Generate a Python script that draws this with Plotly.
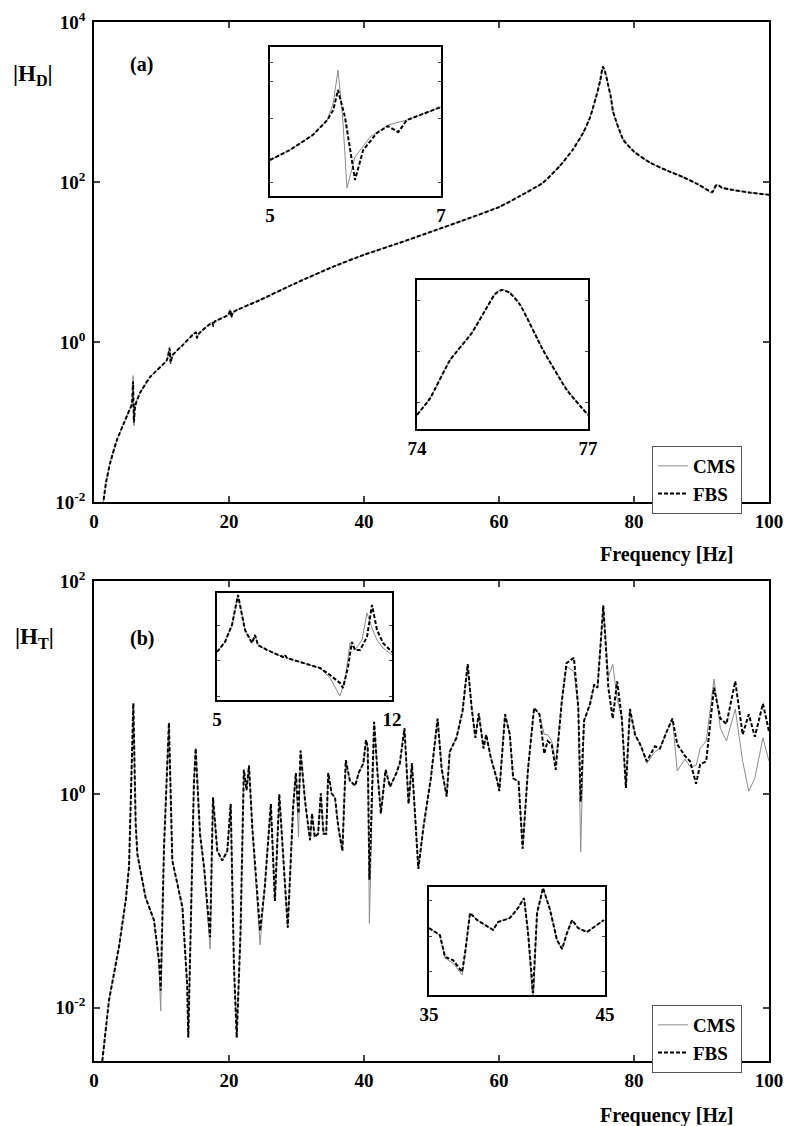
import plotly.graph_objects as go

# ---------------- data (y given as log10 exponents) ----------------
# Panel (a) main curve
freq_a = [1.3, 1.8, 2.4, 3.4, 4.5, 5.0, 5.6, 5.78, 5.92, 6.1, 6.8, 8.3, 10.8, 11.2, 11.35, 11.6,
          13.0, 15.1, 15.25, 15.5, 17.5, 17.65, 17.8, 19.9, 20.2, 20.35, 20.6, 24.6, 30.0, 35.4,
          40.0, 45.3, 50.0, 55.0, 60.1, 63.0, 66.5, 69.0, 70.9, 72.5, 73.5, 74.0, 74.5, 75.0,
          75.4, 75.8, 76.2, 76.6, 76.9, 78.4, 80.0, 82.4, 85.0, 87.3, 89.5, 91.6, 92.1, 92.5,
          93.0, 94.7, 97.0, 100.0]
fbs_a_exp = [-2.05, -1.75, -1.51, -1.225, -1.0, -0.90, -0.78, -0.50, -1.0, -0.80, -0.64, -0.44,
             -0.225, -0.08, -0.26, -0.17, -0.05, 0.12, 0.05, 0.10, 0.24, 0.20, 0.25, 0.34, 0.40,
             0.31, 0.37, 0.525, 0.74, 0.94, 1.09, 1.24, 1.38, 1.53, 1.69, 1.82, 1.99, 2.2, 2.4,
             2.62, 2.81, 2.95, 3.1, 3.27, 3.44, 3.35, 3.2, 3.05, 2.88, 2.53, 2.38, 2.24, 2.14,
             2.06, 1.97, 1.875, 1.95, 1.96, 1.93, 1.9, 1.87, 1.84]
cms_a_exp = [-2.05, -1.75, -1.51, -1.225, -1.0, -0.90, -0.78, -0.42, -1.05, -0.78, -0.64, -0.44,
             -0.225, -0.06, -0.27, -0.17, -0.05, 0.13, 0.05, 0.10, 0.25, 0.20, 0.25, 0.34, 0.41,
             0.31, 0.37, 0.525, 0.74, 0.94, 1.09, 1.24, 1.38, 1.53, 1.69, 1.82, 1.99, 2.2, 2.4,
             2.62, 2.81, 2.95, 3.1, 3.27, 3.44, 3.35, 3.2, 3.05, 2.88, 2.53, 2.38, 2.24, 2.14,
             2.06, 1.97, 1.86, 1.97, 1.96, 1.93, 1.9, 1.87, 1.84]

# Inset (a) 5-7 Hz
freq_a1_fbs = [5.0, 5.23, 5.50, 5.67, 5.74, 5.795, 5.877, 5.936, 5.994, 6.09, 6.25, 6.38, 6.50,
               6.60, 6.75, 7.0]
fbs_a1_exp = [-0.90, -0.844, -0.759, -0.674, -0.617, -0.504, -0.657, -0.844, -1.013, -0.844,
              -0.747, -0.708, -0.742, -0.674, -0.646, -0.60]
freq_a1_cms = [5.0, 5.23, 5.50, 5.67, 5.74, 5.795, 5.85, 5.90, 5.994, 6.17, 6.38, 6.50, 6.60,
               6.75, 7.0]
cms_a1_exp = [-0.90, -0.844, -0.759, -0.674, -0.578, -0.391, -0.657, -1.059, -0.883, -0.77,
              -0.702, -0.685, -0.674, -0.646, -0.60]

# Inset (a) 74-77 Hz
freq_a2 = [74.0, 74.23, 74.58, 74.96, 75.23, 75.37, 75.49, 75.63, 75.81, 76.21, 76.63, 77.0]
fbs_a2_exp = [2.95, 3.016, 3.165, 3.271, 3.373, 3.424, 3.44, 3.428, 3.381, 3.205, 3.048, 2.95]
cms_a2_exp = [2.95, 3.016, 3.165, 3.271, 3.373, 3.424, 3.442, 3.430, 3.383, 3.207, 3.05, 2.952]

# Panel (b) main curve
freq_b = [1.23, 2.22, 2.96, 3.7, 4.69, 5.19, 5.83, 6.17, 6.42, 6.8, 7.65, 8.89, 9.63, 9.88,
          10.37, 11.1, 11.6, 13.1, 13.8, 13.97, 14.8, 15.06, 15.7, 16.3, 17.2, 17.63, 18.27,
          19.0, 19.75, 20.25, 20.74, 21.14, 21.7, 22.2, 22.6, 22.96, 23.45, 24.6, 25.3, 26.2,
          26.8, 27.45, 27.8, 28.7, 29.5, 29.9, 30.3, 30.6, 31.26, 32.0, 32.3, 32.7, 33.2, 33.6,
          34.0, 34.4, 34.7, 35.2, 35.7, 36.2, 36.8, 37.3, 37.9, 38.7, 39.2, 39.9, 40.3, 40.55,
          40.8, 41.5, 42.0, 42.5, 43.2, 43.85, 44.8, 45.3, 46.0, 46.6, 47.1, 48.05, 48.8, 49.9,
          50.9, 51.5, 52.25, 52.7, 53.7, 54.6, 55.36, 55.95, 56.5, 57.0, 57.7, 58.1, 58.8,
          59.65, 60.05, 60.9, 61.6, 62.1, 62.9, 63.5, 64.3, 65.2, 66.0, 66.7, 67.2, 67.8, 68.4,
          69.3, 70.0, 71.1, 71.75, 72.1, 72.6, 73.5, 74.1, 74.6, 75.45, 76.2, 76.85, 77.5,
          78.2, 78.8, 79.4, 80.15, 80.9, 81.9, 83.1, 83.85, 84.85, 85.7, 86.4, 87.55, 88.3,
          89.2, 89.8, 90.7, 91.85, 92.8, 93.7, 95.0, 96.1, 97.0, 97.9, 99.1, 100.0]
fbs_b_exp = [-2.5, -1.93, -1.68, -1.43, -1.0, -0.68, 0.854, -0.27, -0.56, -0.68, -0.97, -1.18,
             -1.56, -1.84, -0.50, 0.67, -0.62, -1.06, -1.78, -2.28, 0.10, 0.43, -0.37, -0.68,
             -1.34, -0.03, -0.53, -0.62, -0.53, -0.09, -1.62, -2.28, -1.31, 0.23, 0.04, 0.27,
             -0.31, -1.28, -0.87, -0.09, -1.0, 0.0, -0.37, -1.25, -0.12, 0.20, -0.18, 0.41,
             -0.06, -0.43, -0.18, -0.40, -0.37, 0.01, -0.37, -0.37, 0.20, 0.01, -0.03, -0.31,
             -0.53, 0.32, 0.13, 0.08, 0.20, 0.29, 0.51, 0.44, -0.8, 0.68, 0.20, -0.18, 0.23,
             0.07, 0.20, 0.29, 0.62, -0.09, 0.29, -0.70, -0.31, 0.15, 0.71, 0.24, -0.02, 0.40,
             0.53, 0.78, 1.22, 0.81, 0.53, 0.76, 0.43, 0.56, 0.34, 0.15, 0.03, 0.75, 0.56, 0.15,
             0.12, -0.51, 0.24, 0.81, 0.75, 0.38, 0.50, 0.47, 0.23, 0.87, 1.23, 1.28, 0.81,
             -0.07, 0.69, 0.85, 1.03, 1.0, 1.77, 1.0, 0.71, 1.06, 0.71, 0.06, 0.80, 0.56, 0.47,
             0.31, 0.45, 0.43, 0.59, 0.71, 0.47, 0.36, 0.31, 0.10, 0.28, 0.31, 1.0, 0.71, 0.66,
             1.06, 0.56, 0.75, 0.54, 0.85, 0.59]
cms_b_exp = [-2.5, -1.93, -1.68, -1.43, -1.0, -0.68, 0.854, -0.27, -0.56, -0.68, -0.97, -1.18,
             -1.60, -2.03, -0.50, 0.67, -0.62, -1.06, -1.80, -2.28, 0.10, 0.43, -0.37, -0.68,
             -1.45, -0.03, -0.53, -0.62, -0.53, -0.09, -1.62, -2.28, -1.31, 0.23, 0.04, 0.27,
             -0.31, -1.41, -0.87, -0.09, -1.0, 0.0, -0.37, -1.25, -0.12, 0.20, -0.40, 0.41,
             -0.06, -0.43, -0.18, -0.40, -0.37, 0.01, -0.37, -0.37, 0.20, 0.01, -0.03, -0.31,
             -0.53, 0.32, 0.13, 0.08, 0.20, 0.29, 0.51, 0.44, -1.21, 0.68, 0.20, -0.18, 0.23,
             0.07, 0.20, 0.29, 0.62, -0.09, 0.29, -0.70, -0.31, 0.15, 0.71, 0.24, -0.02, 0.40,
             0.53, 0.78, 1.22, 0.81, 0.53, 0.76, 0.43, 0.56, 0.34, 0.15, 0.03, 0.75, 0.56, 0.15,
             0.12, -0.51, 0.24, 0.81, 0.75, 0.56, 0.56, 0.50, 0.30, 0.87, 1.2, 1.15, 0.81,
             -0.54, 0.69, 0.85, 1.03, 1.0, 1.77, 1.1, 1.22, 0.9, 0.71, 0.06, 0.80, 0.56, 0.47,
             0.29, 0.40, 0.43, 0.59, 0.71, 0.22, 0.33, 0.26, 0.27, 0.43, 0.50, 1.08, 0.62, 0.50,
             0.80, 0.31, 0.03, 0.15, 0.53, 0.31]

# Inset (b) 5-12 Hz
freq_b1_fbs = [5.0, 5.32, 5.6, 5.84, 6.12, 6.4, 6.52, 6.64, 7.0, 7.64, 7.72, 7.8, 8.32, 9.12,
               9.52, 9.92, 10.04, 10.24, 10.4, 10.52, 10.72, 11.0, 11.2, 11.4, 11.64, 12.0]
fbs_b1_exp = [-0.751, -0.470, 0.008, 0.851, -0.133, -0.498, -0.273, -0.555, -0.695, -0.892,
              -0.835, -0.920, -1.032, -1.201, -1.398, -1.622, -1.763, -1.173, -0.470, -0.695,
              -0.695, -0.330, 0.570, -0.133, -0.498, -0.751]
freq_b1_cms = [5.0, 5.32, 5.6, 5.84, 6.12, 6.4, 6.52, 6.64, 7.0, 7.64, 7.72, 7.8, 8.32, 9.12,
               9.52, 9.8, 9.92, 10.12, 10.32, 10.52, 10.8, 11.0, 11.2, 11.4, 11.64, 12.0]
cms_b1_exp = [-0.751, -0.470, 0.008, 0.851, -0.133, -0.498, -0.273, -0.555, -0.695, -0.892,
              -0.835, -0.920, -1.032, -1.201, -1.482, -1.819, -1.988, -1.538, -0.498, -0.695,
              -0.414, 0.345, -0.077, -0.414, -0.639, -0.836]

# Inset (b) 35-45 Hz
freq_b2 = [35.0, 35.62, 35.91, 36.36, 36.88, 37.05, 37.33, 37.73, 38.64, 38.92, 39.6, 40.06,
           40.4, 40.63, 40.91, 41.14, 41.48, 41.88, 42.27, 42.56, 42.84, 43.13, 43.47, 43.98,
           44.94]
fbs_b2_exp = [0.116, 0.017, -0.293, -0.336, -0.505, -0.237, 0.327, 0.229, 0.088, 0.200, 0.257,
              0.398, 0.539, 0.045, -0.801, 0.327, 0.68, 0.37, -0.053, -0.18, 0.045, 0.229,
              0.116, 0.059, 0.229]
cms_b2_exp = [0.116, 0.010, -0.310, -0.378, -0.547, -0.250, 0.327, 0.229, 0.088, 0.200, 0.257,
              0.398, 0.539, 0.045, -1.0, 0.327, 0.68, 0.37, -0.053, -0.18, 0.045, 0.229,
              0.116, 0.059, 0.229]

x_ticks = [0, 20, 40, 60, 80, 100]
y_ticks_a = [-2, 0, 2, 4]
y_ticks_b = [-2, 0, 2]
series_names = ["CMS", "FBS"]


def mag(exps):
    return [10 ** e for e in exps]


# ---------------- style ----------------
FONT = "Liberation Serif, Times New Roman, serif"
TFONT = dict(family=FONT, size=19, color="black")
CMS_LINE = dict(color="#8c8c8c", width=1)
FBS_LINE = dict(color="black", width=2, dash="4px,2px")

W, H = 795, 1126


def px_x(p):
    return p / W


def px_y(p):
    return 1 - p / H


def b(t):
    return "<b>%s</b>" % t


fig = go.Figure()


def add_pair(xc, yc, xf, yf, xa, ya, legend=None, smooth=False):
    shape = dict(shape="spline", smoothing=0.5) if smooth else {}
    fig.add_trace(go.Scatter(x=xc, y=mag(yc), mode="lines", line=dict(CMS_LINE, **shape),
                             name=b(series_names[0]), xaxis=xa, yaxis=ya,
                             showlegend=legend is not None, legend=legend or "legend"))
    fig.add_trace(go.Scatter(x=xf, y=mag(yf), mode="lines", line=dict(FBS_LINE, **shape),
                             name=b(series_names[1]), xaxis=xa, yaxis=ya,
                             showlegend=legend is not None, legend=legend or "legend"))


add_pair(freq_a, cms_a_exp, freq_a, fbs_a_exp, "x", "y", "legend", smooth=True)
add_pair(freq_b, cms_b_exp, freq_b, fbs_b_exp, "x2", "y2", "legend2")
add_pair(freq_a1_cms, cms_a1_exp, freq_a1_fbs, fbs_a1_exp, "x3", "y3")
add_pair(freq_a2, cms_a2_exp, freq_a2, fbs_a2_exp, "x4", "y4", smooth=True)
add_pair(freq_b1_cms, cms_b1_exp, freq_b1_fbs, fbs_b1_exp, "x5", "y5")
add_pair(freq_b2, cms_b2_exp, freq_b2, fbs_b2_exp, "x6", "y6")

COMMON = dict(showgrid=False, zeroline=False, automargin=False, linecolor="black")


def main_x(domain, anchor):
    return dict(domain=domain, anchor=anchor, range=[0, 100], tickvals=x_ticks,
                ticktext=[b(v) for v in x_ticks], ticks="inside", ticklen=6, tickwidth=1.5,
                showline=True, linewidth=1.5, mirror="ticks", tickfont=TFONT,
                ticklabelstandoff=1, **COMMON)


def main_y(domain, anchor, rng, vals):
    return dict(domain=domain, anchor=anchor, type="log", range=rng,
                tickvals=[10 ** v for v in vals],
                ticktext=[b("10<sup>%d</sup>" % v) for v in vals],
                ticks="inside", ticklen=6, tickwidth=1.5,
                showline=True, linewidth=1.5, mirror="ticks", tickfont=TFONT,
                ticklabelstandoff=3, **COMMON)


def inset_x(domain, anchor, rng):
    return dict(domain=domain, anchor=anchor, range=rng, tickvals=rng,
                ticktext=[b(v) for v in rng], ticks="", showline=True, linewidth=1.5,
                mirror=True, tickfont=TFONT, ticklabelstandoff=1, **COMMON)


def inset_y(domain, anchor, rng, vals):
    return dict(domain=domain, anchor=anchor, type="log", range=rng,
                tickvals=[10 ** v for v in vals], showticklabels=False,
                ticks="inside", ticklen=3, tickwidth=1, showline=True, linewidth=1.5,
                mirror="ticks", **COMMON)


xa_dom = [px_x(94), px_x(769)]
LEG = dict(xanchor="left", yanchor="top", bgcolor="white", bordercolor="#555", borderwidth=1,
           font=dict(family=FONT, size=19, color="black"), itemwidth=30, tracegroupgap=0)
fig.update_layout(
    width=W, height=H, margin=dict(l=0, r=0, t=0, b=0, autoexpand=False),
    paper_bgcolor="white", plot_bgcolor="white",
    font=dict(family=FONT, size=19, color="black"),
    xaxis=main_x(xa_dom, "y"),
    yaxis=main_y([px_y(502), px_y(22)], "x", [-2, 4], y_ticks_a),
    xaxis2=main_x(xa_dom, "y2"),
    yaxis2=main_y([px_y(1061), px_y(581)], "x2", [-2.5, 2], y_ticks_b),
    xaxis3=inset_x([px_x(270), px_x(441)], "y3", [5, 7]),
    yaxis3=inset_y([px_y(196), px_y(47)], "x3", [-1.104, -0.26], [-1.03, -0.663, -0.453, -0.346]),
    xaxis4=inset_x([px_x(417), px_x(588)], "y4", [74, 77]),
    yaxis4=inset_y([px_y(429), px_y(280)], "x4", [2.895, 3.479], [3.0, 3.2, 3.4]),
    xaxis5=inset_x([px_x(217), px_x(392)], "y5", [5, 12]),
    yaxis5=inset_y([px_y(700), px_y(593)], "x5", [-2.1, 0.906], [-2, -1, 0]),
    xaxis6=inset_x([px_x(429), px_x(605)], "y6", [35, 45]),
    yaxis6=inset_y([px_y(995), px_y(887)], "x6", [-0.829, 0.694], [-0.5, 0, 0.5]),
    legend=dict(x=px_x(652), y=px_y(446), **LEG),
    legend2=dict(x=px_x(652), y=px_y(1005), **LEG),
)

ann = [
    ("|H<sub>D</sub>|", 33, 75, 23),
    ("|H<sub>T</sub>|", 34, 638, 23),
    ("(a)", 141, 65, 20),
    ("(b)", 142, 638, 20),
    ("Frequency [Hz]", 667, 555, 20),
    ("Frequency [Hz]", 667, 1115, 20),
]
for text, x, y, s in ann:
    fig.add_annotation(text=b(text), x=px_x(x), y=px_y(y), xref="paper", yref="paper",
                       showarrow=False, xanchor="center", yanchor="middle",
                       font=dict(family=FONT, size=s, color="black"))

fig.write_html("out.html")
